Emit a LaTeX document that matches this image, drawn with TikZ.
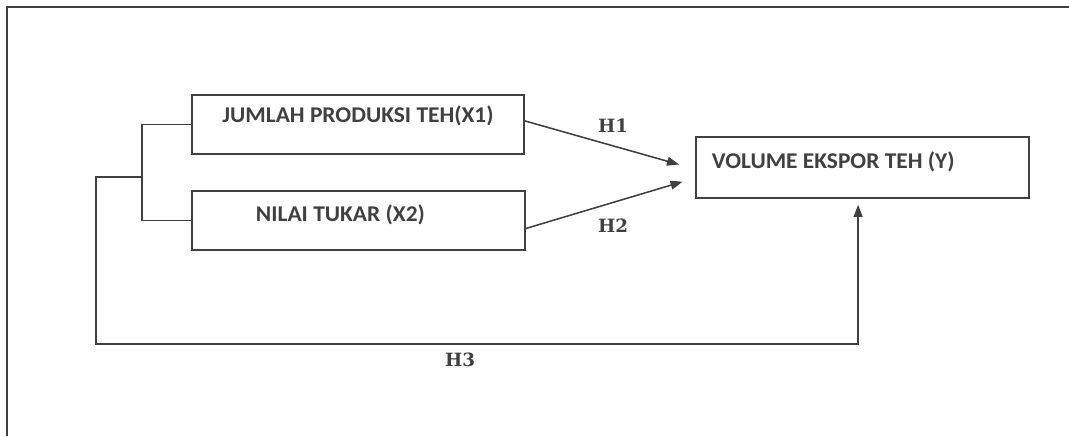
\documentclass[tikz,border=0pt]{standalone}
\usepackage{fontspec}
\usetikzlibrary{arrows.meta}
\newfontfamily\boxfont[FakeStretch=1.04]{Carlito}
\newfontfamily\hypfont{DejaVu Serif}
\definecolor{linegray}{HTML}{404040}
\definecolor{textgray}{HTML}{404040}

\tikzset{
	varbox/.style={draw=linegray,line width=1.1pt,inner ysep=0pt,text=textgray,
		font=\boxfont\bfseries\fontsize{16}{18}\selectfont},
	link/.style={draw=linegray,line width=1.1pt},
	arr/.style={link,-{Triangle[length=3mm,width=2.2mm]}},
	hyp/.style={text=textgray,font=\hypfont\bfseries\fontsize{13}{15}\selectfont}
}

\begin{document}
\begin{tikzpicture}[x=0.025cm,y=-0.025cm]
	\useasboundingbox (0,0) rectangle (1069,436);
	% outer frame
	\draw[link,line width=1.4pt] (7,436) -- (7,7) -- (1069,7);

	\node (x1) [varbox,minimum width=8.3cm,minimum height=1.475cm,
		text height=0.675cm,text depth=0.8cm,align=center] at (358,124.5)
		{JUMLAH PRODUKSI TEH(X1)};
	\node (x2) [varbox,minimum width=8.325cm,minimum height=1.475cm,
		text height=0.75cm,text depth=0.725cm,inner xsep=1.6cm,text width=5.125cm,align=flush left]
		at (358.5,220.5) {NILAI TUKAR (X2)};
	\node (y) [varbox,minimum width=8.325cm,minimum height=1.525cm,
		text height=0.775cm,text depth=0.75cm,inner xsep=0.4cm,text width=7.525cm,align=flush left]
		at (862.5,167.5) {VOLUME EKSPOR TEH (Y)};

	\coordinate (fork) at (142,177);
	\coordinate (root) at (96,177);
	\coordinate (corner) at (96,344);

	\draw[link] (x1.west) -| (fork) |- (x2.west);
	\draw[arr,shorten >=0.15cm] (fork) -- (root) -- (corner) -| ([xshift=-0.11cm]y.south);
	\draw[arr,shorten >=0.42cm] ([yshift=0.09cm]x1.east) -- ([yshift=-0.04cm]y.west);
	\draw[arr,shorten >=0.33cm] ([yshift=-0.2cm]x2.east) -- ([yshift=-0.26cm]y.west);

	\node (h1) [hyp] at (613,126) {H1};
	\node (h2) [hyp] at (613,225.5) {H2};
	\node (h3) [hyp] at (460,360) {H3};
\end{tikzpicture}
\end{document}
